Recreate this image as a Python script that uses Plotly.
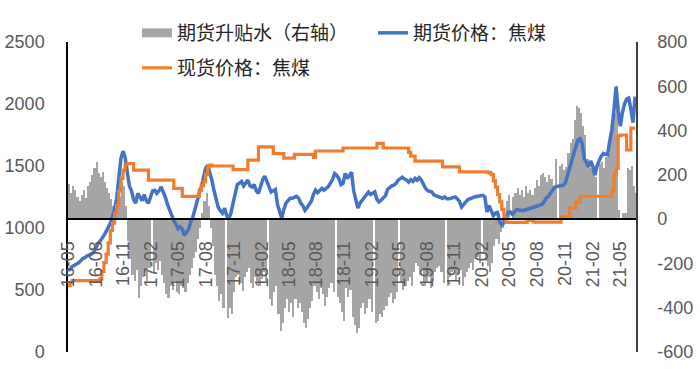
import pandas as pd
import plotly.graph_objects as go

# weekly sampling dates (start of each week)
dates = pd.date_range("2016-05-03", periods=269, freq="7D")

# 期货价格：焦煤 (left axis)
futures = [
    660,665,690,700,705,720,735,754,760,775,
    780,790,800,830,870,890,910,940,970,1000,
    1040,1090,1150,1240,1400,1560,1620,1570,1450,1340,
    1300,1230,1200,1280,1250,1220,1270,1220,1200,1260,
    1300,1305,1280,1300,1331,1290,1250,1190,1140,1100,
    1060,1030,994,1010,990,940,960,990,1050,1090,
    1150,1230,1280,1330,1420,1480,1507,1450,1386,1300,
    1230,1167,1140,1120,1160,1100,1078,1120,1200,1280,
    1350,1360,1375,1340,1360,1386,1340,1330,1350,1300,
    1280,1330,1390,1418,1370,1320,1290,1300,1310,1190,
    1120,1078,1150,1200,1220,1240,1240,1245,1255,1240,
    1200,1180,1142,1165,1190,1215,1270,1305,1285,1300,
    1320,1305,1320,1335,1360,1390,1440,1425,1400,1350,
    1360,1440,1400,1420,1450,1300,1240,1160,1200,1224,
    1250,1275,1290,1270,1280,1291,1230,1210,1225,1240,
    1260,1310,1325,1340,1345,1360,1386,1400,1410,1395,
    1388,1370,1390,1375,1400,1385,1405,1386,1350,1318,
    1300,1295,1290,1265,1260,1255,1245,1240,1250,1235,
    1235,1240,1245,1250,1235,1215,1169,1195,1210,1230,
    1240,1242,1250,1255,1260,1262,1264,1250,1130,1180,
    1140,1100,1120,1125,1050,1025,1040,1090,1125,1130,
    1110,1130,1150,1145,1140,1140,1145,1150,1155,1160,
    1165,1170,1180,1185,1190,1210,1240,1255,1280,1300,
    1331,1335,1338,1340,1345,1360,1430,1480,1540,1600,
    1660,1710,1720,1680,1560,1520,1493,1540,1500,1426,
    1500,1540,1580,1600,1595,1590,1700,1790,1950,2140,
    1950,1820,1930,2000,2040,2048,1960,1850,2060,
]

# 现货价格：焦煤 (left axis)
spot = [
    535,560,575,575,575,575,575,575,575,575,
    575,575,575,575,575,590,650,720,790,880,
    980,1040,1120,1183,1300,1400,1467,1510,1520,1520,
    1520,1467,1467,1467,1467,1467,1467,1467,1386,1386,
    1386,1386,1386,1386,1386,1386,1386,1386,1386,1386,
    1320,1320,1320,1320,1255,1255,1255,1255,1255,1255,
    1255,1255,1305,1340,1372,1430,1493,1507,1500,1500,
    1500,1500,1500,1500,1500,1500,1500,1500,1470,1470,
    1470,1470,1470,1470,1470,1548,1548,1548,1548,1548,
    1655,1655,1655,1655,1655,1655,1655,1600,1600,1600,
    1600,1600,1564,1564,1564,1564,1564,1594,1594,1594,
    1594,1594,1594,1594,1594,1594,1570,1621,1621,1621,
    1621,1621,1621,1621,1621,1621,1621,1621,1621,1621,
    1645,1645,1645,1645,1645,1645,1645,1645,1645,1645,
    1645,1645,1645,1645,1645,1645,1683,1683,1683,1645,
    1645,1645,1645,1645,1645,1645,1645,1645,1645,1645,
    1645,1610,1580,1580,1540,1540,1540,1540,1540,1540,
    1540,1540,1540,1540,1540,1540,1540,1493,1493,1493,
    1493,1493,1493,1493,1493,1453,1453,1453,1453,1453,
    1453,1453,1453,1453,1453,1453,1453,1453,1450,1445,
    1430,1380,1330,1270,1210,1150,1090,1045,1045,1045,
    1045,1045,1045,1045,1045,1045,1045,1062,1062,1062,
    1048,1048,1048,1048,1048,1048,1048,1048,1048,1048,
    1048,1048,1048,1092,1092,1092,1092,1160,1160,1160,
    1210,1210,1256,1256,1256,1256,1256,1256,1256,1256,
    1256,1256,1256,1256,1256,1256,1256,1300,1426,1480,
    1745,1750,1750,1750,1629,1629,1805,1805,1805,
]

# 期货升贴水（右轴） (right axis); None = holiday gap
basis = [
    160,120,150,130,100,80,110,130,95,150,
    170,200,230,259,210,190,215,170,140,120,
    90,60,40,70,100,170,150,60,-100,-180,
    -250,-280,-230,-355,-300,-260,-240,-280,-220,None,
    -240,-200,-230,-190,-250,-290,-340,-355,-300,-320,
    -280,-330,-340,-300,-310,-330,-290,-250,-220,-175,
    -150,-90,-40,30,80,120,60,-40,-120,-250,
    -300,-370,-340,-400,None,-445,-400,-430,-330,-260,
    -250,-290,-325,-260,-240,-220,-290,-310,-260,-280,
    -300,-270,-240,-280,None,-360,-390,-330,-300,-430,
    -505,-470,-400,-360,-420,-380,-440,-360,-400,-380,
    -420,-470,-490,-450,-400,-370,-300,-330,-360,-310,
    -340,-390,-350,-310,-290,-330,None,-350,-380,-420,
    -460,-310,-350,-320,-440,-480,-515,-490,-400,-380,
    -430,-400,-360,-420,None,-470,-460,-430,-440,-410,
    -390,-350,-335,-380,-360,-330,None,-290,-320,-300,
    -280,-260,-300,-240,-200,-210,-250,-230,-300,-280,
    -260,-310,-280,-240,-220,-210,-240,-290,None,-300,
    -260,-240,-220,-280,-250,-230,-300,-260,-240,-220,
    -200,-230,-180,-170,-200,None,-150,-190,-210,-240,
    -200,-120,-90,-110,-60,-40,20,80,110,None,
    100,120,140,110,130,100,150,120,130,110,
    140,176,150,200,207,190,170,200,180,145,
    270,None,240,250,220,235,300,343,360,448,
    510,500,480,420,380,270,230,260,200,190,
    None,250,260,230,280,300,400,450,480,600,
    40,None,30,30,230,220,240,150,120,
]

left_ticks = [0, 500, 1000, 1500, 2000, 2500]
right_ticks = [-600, -400, -200, 0, 200, 400, 600, 800]

names = ["期货升贴水（右轴）", "期货价格：焦煤", "现货价格：焦煤"]
colors = ["#A5A5A5", "#4472C4", "#ED7D31"]

week_ms = 7 * 24 * 3600 * 1000
tick_font = dict(family="Liberation Sans, Arial, sans-serif", size=18, color="#595959")
leg_font = dict(family="Noto Sans CJK SC", size=19, color="#262626")

fig = go.Figure()
fig.add_trace(go.Bar(
    x=dates, y=basis, name=names[0], marker=dict(color=colors[0], line=dict(width=0)),
    width=week_ms, offset=0, xaxis="x", yaxis="y", showlegend=False,
))
# legend proxy for the bars (wide grey swatch)
fig.add_trace(go.Scatter(
    x=[None], y=[None], name=names[0], mode="lines",
    line=dict(color=colors[0], width=9), xaxis="x", yaxis="y", legend="legend",
))
fig.add_trace(go.Scatter(
    x=dates, y=futures, name=names[1], mode="lines",
    line=dict(color=colors[1], width=3.5), xaxis="x", yaxis="y2", legend="legend",
))
fig.add_trace(go.Scatter(
    x=dates, y=spot, name=names[2], mode="lines",
    line=dict(color=colors[2], width=3.2, shape="hv"), xaxis="x", yaxis="y2", legend="legend2",
))

fig.update_layout(
    width=700, height=369,
    margin=dict(l=68, r=64, t=42, b=17, autoexpand=False),
    paper_bgcolor="white", plot_bgcolor="white",
    bargap=0,
    xaxis=dict(
        type="date", range=["2016-05-03", "2021-06-25"],
        anchor="free", position=600 / 1400,
        showline=True, linecolor="black", linewidth=2,
        tickformat="%y-%m", tick0="2016-05-03", dtick="M3", tickangle=-90,
        ticks="outside", ticklen=14, tickcolor="rgba(0,0,0,0)",
        tickfont=tick_font, showgrid=False, zeroline=False,
    ),
    yaxis=dict(
        side="right", range=[-600, 800], tickvals=right_ticks,
        ticktext=[str(v) for v in right_ticks],
        showline=True, linecolor="#404040", linewidth=1.5,
        ticks="outside", ticklen=16, tickcolor="rgba(0,0,0,0)",
        tickfont=tick_font, showgrid=False, zeroline=False,
    ),
    yaxis2=dict(
        overlaying="y", side="left", range=[0, 2500], tickvals=left_ticks,
        showline=True, linecolor="black", linewidth=1.5,
        ticks="", ticklabelstandoff=18,
        tickfont=tick_font, showgrid=False, zeroline=False,
    ),
    legend=dict(
        orientation="h", xref="container", yref="container",
        x=137 / 700, y=(369 - 33) / 369, xanchor="left", yanchor="middle",
        font=leg_font, bgcolor="rgba(0,0,0,0)", entrywidth=191, entrywidthmode="pixels",
    ),
    legend2=dict(
        orientation="h", xref="container", yref="container",
        x=137 / 700, y=(369 - 68) / 369, xanchor="left", yanchor="middle",
        font=leg_font, bgcolor="rgba(0,0,0,0)",
    ),
    showlegend=True,
)

fig.write_html(
    "out.html",
    config={"displayModeBar": False},
    post_script="document.body.style.margin='0';document.body.style.overflow='hidden';",
)
